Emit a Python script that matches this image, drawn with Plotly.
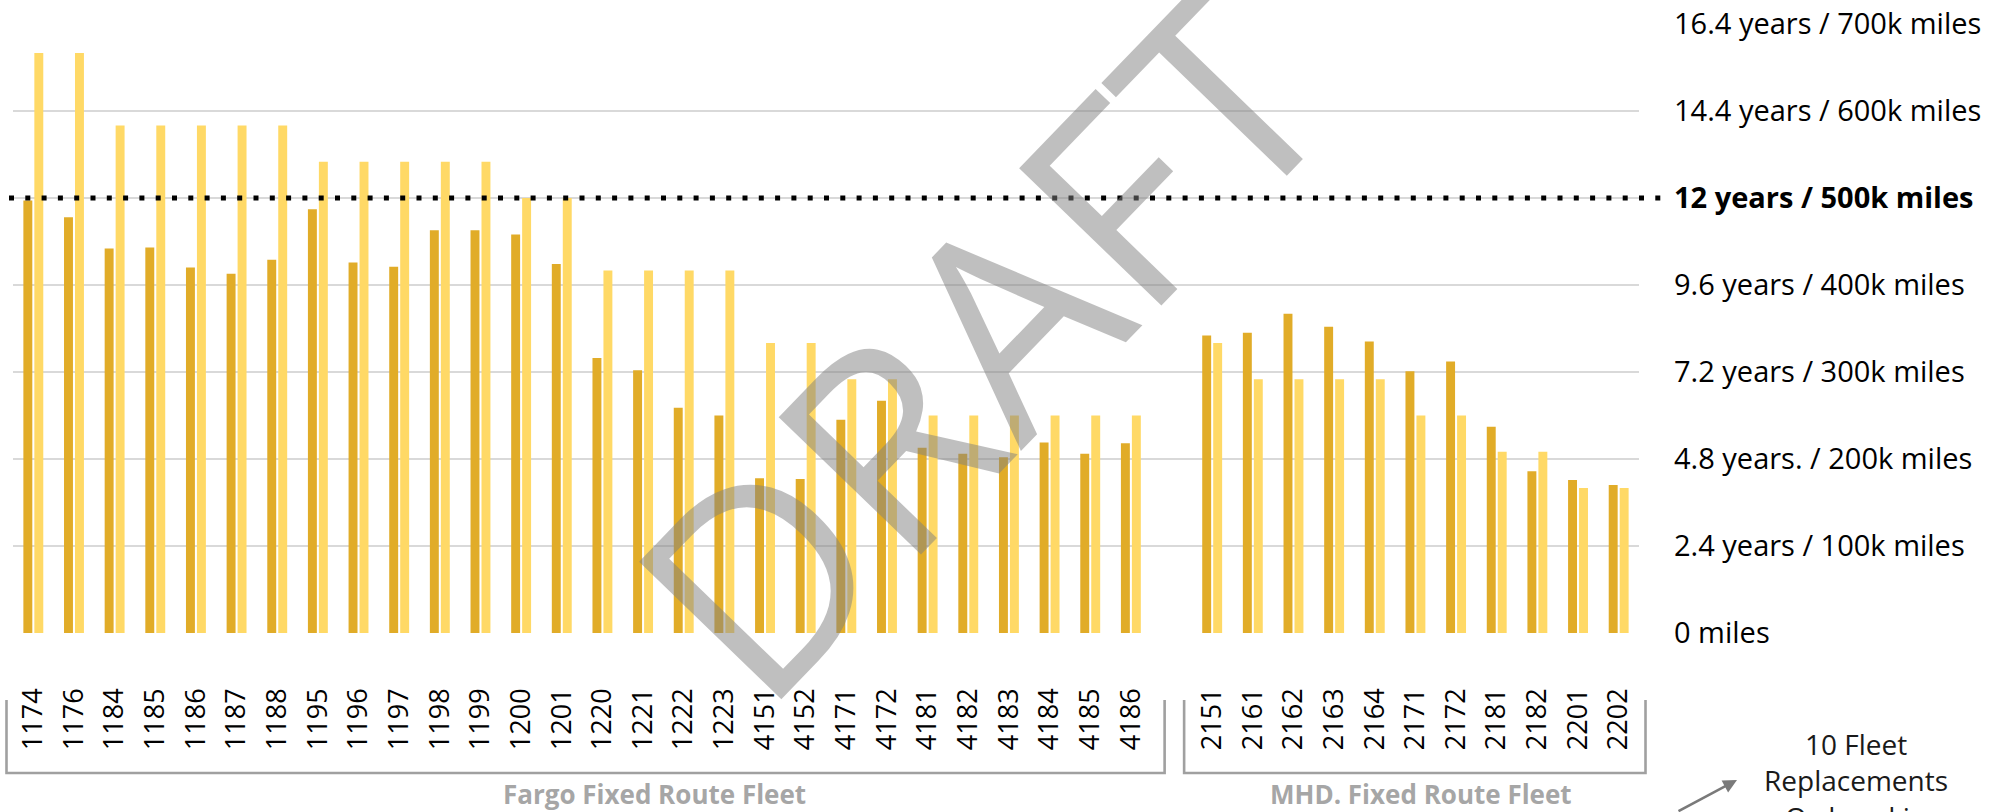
import plotly.graph_objects as go

# Fleet units and their odometer mileage (thousands of miles) and age (years)
fargo_units = ["1174", "1176", "1184", "1185", "1186", "1187", "1188", "1195",
               "1196", "1197", "1198", "1199", "1200", "1201", "1220", "1221",
               "1222", "1223", "4151", "4152", "4171", "4172", "4181", "4182",
               "4183", "4184", "4185", "4186"]
fargo_miles_k = [497, 478, 442, 443, 420, 413, 429, 487, 426, 421, 463, 463,
                 458, 424, 316, 302, 259, 250, 178, 177, 245, 267, 213, 206,
                 202, 219, 206, 218]
fargo_age_years = [16, 16, 14, 14, 14, 14, 14, 13, 13, 13, 13, 13, 12, 12,
                   10, 10, 10, 10, 8, 8, 7, 7, 6, 6, 6, 6, 6, 6]

mhd_units = ["2151", "2161", "2162", "2163", "2164", "2171", "2172", "2181",
             "2182", "2201", "2202"]
mhd_miles_k = [342, 345, 367, 352, 335, 301, 312, 237, 186, 176, 170]
mhd_age_years = [8, 7, 7, 7, 7, 6, 6, 5, 5, 4, 4]

gap_label = " "
categories = fargo_units + [gap_label] + mhd_units

scale_ticks_k = [0, 100, 200, 300, 400, 500, 600, 700]
scale_labels = ["0 miles", "2.4 years / 100k miles", "4.8 years. / 200k miles",
                "7.2 years / 300k miles", "9.6 years / 400k miles",
                "<b>12 years / 500k miles</b>", "14.4 years / 600k miles",
                "16.4 years / 700k miles"]

useful_life_k = 500        # 12 years / 500k miles threshold
useful_life_years = 12

group_names = ["Fargo Fixed Route Fleet", "MHD. Fixed Route Fleet"]
note_lines = ["10 Fleet", "Replacements", "Ordered in"]

# ---- page geometry ----
W, H = 1997, 812
PLOT_L, PLOT_R, PLOT_T, PLOT_B = 13, 1639, 24, 633


def px_x(px):
    return (px - PLOT_L) / (PLOT_R - PLOT_L)


def px_y(py):
    return (PLOT_B - py) / (PLOT_B - PLOT_T)


def cat_x(idx):
    return (idx + 0.5) / len(categories)


DARK = "#E1AC28"
LIGHT = "#FFD966"
FONT = "Open Sans"

y_max_k = scale_ticks_k[-1]
y2_max_years = y_max_k * useful_life_years / useful_life_k

fig = go.Figure()

units_all = fargo_units + mhd_units
miles_all = fargo_miles_k + mhd_miles_k
years_all = fargo_age_years + mhd_age_years

fig.add_trace(go.Bar(
    x=units_all, y=miles_all, name="Miles",
    marker=dict(color=DARK, line=dict(width=0)),
    width=0.22, offset=-0.245, yaxis="y", hoverinfo="x+y",
))
fig.add_trace(go.Bar(
    x=units_all, y=years_all, name="Years",
    marker=dict(color=LIGHT, line=dict(width=0)),
    width=0.22, offset=0.025, yaxis="y2", hoverinfo="x+y",
))

shapes = []
# 12 years / 500k miles threshold
shapes.append(dict(type="line", xref="paper", yref="y",
                   x0=px_x(9), x1=px_x(1662), y0=useful_life_k, y1=useful_life_k,
                   line=dict(color="black", width=5, dash="5px,11.3px"), layer="above"))

# group brackets under the axis labels
bracket_top, bracket_bot = px_y(700), px_y(773)
for lo, hi in [(-0.66, 27.83), (28.31, 39.66)]:
    x0, x1 = cat_x(lo), cat_x(hi)
    shapes.append(dict(type="path", xref="paper", yref="paper",
                       path=f"M {x0},{bracket_top} L {x0},{bracket_bot} L {x1},{bracket_bot} L {x1},{bracket_top}",
                       line=dict(color="#A0A0A0", width=2.6)))

annotations = []
for name, xc in zip(group_names, [px_x(654), px_x(1421)]):
    annotations.append(dict(text=f"<b>{name}</b>", xref="paper", yref="paper",
                            x=xc, y=px_y(794), showarrow=False,
                            xanchor="center", yanchor="middle",
                            font=dict(family=FONT, size=26, color="#A6A6A6")))

annotations.append(dict(text="<br>".join(note_lines), xref="paper", yref="paper",
                        x=px_x(1856), y=px_y(723), showarrow=False,
                        xanchor="center", yanchor="top", align="center",
                        font=dict(family=FONT, size=28, color="#1A1A1A")))

annotations.append(dict(text="", xref="paper", yref="paper",
                        x=px_x(1737), y=px_y(780), ax=-60, ay=42,
                        showarrow=True, arrowhead=2, arrowsize=1.1,
                        arrowwidth=2.5, arrowcolor="#7A7A7A"))

annotations.append(dict(text="DRAFT", xref="paper", yref="paper",
                        x=px_x(978), y=px_y(340), showarrow=False,
                        xanchor="center", yanchor="middle", textangle=-46,
                        font=dict(family=FONT, size=277, color="rgba(128,128,128,0.5)")))

fig.update_layout(
    width=W, height=H, autosize=False,
    margin=dict(l=PLOT_L, r=W - PLOT_R, t=PLOT_T, b=H - PLOT_B, pad=0),
    paper_bgcolor="white", plot_bgcolor="white",
    barmode="overlay", showlegend=False,
    font=dict(family=FONT, color="black"),
    xaxis=dict(type="category", categoryorder="array", categoryarray=categories,
               range=[-0.5, len(categories) - 0.5], tickangle=-90,
               tickfont=dict(family=FONT, size=27, color="black"),
               showgrid=False, zeroline=False, showline=False, ticks="",
               ticklabelstandoff=49, automargin=False, fixedrange=True),
    yaxis=dict(range=[0, y_max_k], side="right", tickvals=scale_ticks_k,
               ticktext=scale_labels, showgrid=True, gridcolor="#D9D9D9",
               gridwidth=1.8, zeroline=False, showline=False, ticks="",
               tickfont=dict(family=FONT, size=29, color="black"),
               ticklabelstandoff=34, automargin=False, fixedrange=True),
    yaxis2=dict(range=[0, y2_max_years], overlaying="y", visible=False,
                showgrid=False, fixedrange=True),
    shapes=shapes,
    annotations=annotations,
)

fig.write_html("out.html")
